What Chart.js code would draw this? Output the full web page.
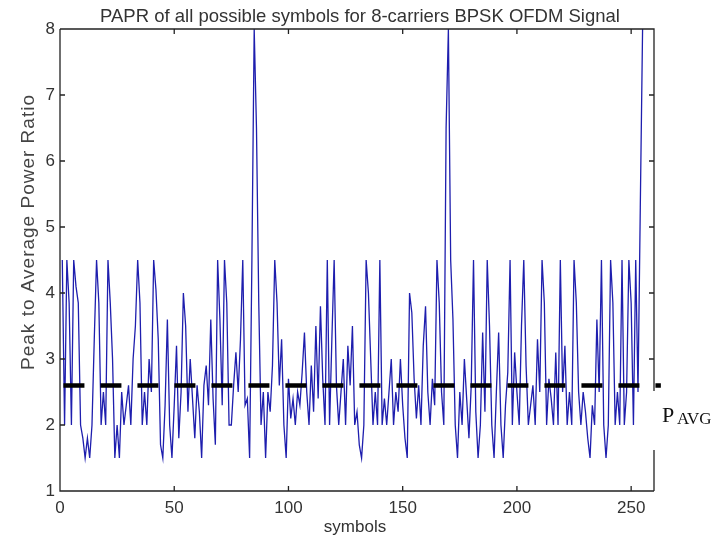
<!DOCTYPE html>
<html>
<head>
<meta charset="utf-8">
<script src="https://cdn.jsdelivr.net/npm/chart.js@4"></script>
<style>
html, body { margin: 0; padding: 0; background: #fff; }
#wrap { width: 720px; height: 541px; }
</style>
</head>
<body>
<div id="wrap"><canvas id="chart1"></canvas></div>
<script>
// PAPR, one value per symbol (1..255)
let papr = [
  4.5, 2, 4.5, 3.85, 2, 4.5, 4.1, 3.85, 2, 1.8, 1.5, 1.8, 1.5, 2, 3.3, 4.5,
  3.85, 2, 2.5, 2, 4.5, 3.85, 3, 1.5, 2, 1.5, 2.5, 2, 2.3, 2.6, 2, 3,
  3.5, 4.5, 3.85, 2, 2.5, 2, 3, 2.5, 4.5, 4.05, 3.3, 1.7, 1.5, 2.3, 3.6, 2,
  1.5, 2.3, 3.2, 1.8, 2.5, 4, 3.5, 2.2, 3, 2.4, 1.8, 2.6, 2.2, 1.5, 2.6, 2.9,
  2.3, 3.6, 2.4, 1.7, 4.5, 3.6, 2.3, 4.5, 3.85, 2, 2, 2.6, 3.1, 2.5, 3.3, 4.5,
  2.3, 2.4, 1.5, 4.5, 8, 6.5, 3.85, 2, 2.5, 1.5, 2.5, 2.2, 2.9, 4.5, 3.85, 2.6,
  3.3, 2, 1.5, 2.7, 2.1, 2.4, 2, 2.5, 2.3, 2.8, 3.4, 2.5, 2, 2.9, 2.2, 3.5,
  2.4, 3.8, 2.7, 2, 4.5, 2, 3.3, 4.5, 2.6, 2, 2.5, 3, 2, 3.2, 2.6, 3.5,
  2, 2.2, 1.7, 1.5, 2, 4.5, 4, 3, 2, 2.5, 2, 4.5, 2, 2.4, 2, 2.5,
  3, 2, 2.5, 2.2, 3, 2.3, 1.8, 1.5, 4, 3.7, 2.7, 2.1, 2.6, 2, 3.2, 3.8,
  2.5, 2, 2.7, 2.3, 4.5, 3.85, 2.5, 2, 6.5, 8, 4.5, 3.6, 2, 1.5, 2.5, 2,
  3, 2.4, 1.8, 2.6, 4.5, 2.2, 1.5, 2, 3.4, 2.2, 4.5, 3.5, 2, 1.5, 2.5, 3.4,
  2, 1.5, 2.3, 2.8, 4.5, 2, 3.1, 2.5, 2, 3.5, 4.5, 2.9, 2, 2.3, 2.6, 2,
  3.3, 2.5, 4.5, 3.85, 2, 2.7, 2.4, 2, 3.1, 2, 4.5, 2.5, 3.2, 2, 2.5, 2,
  4.5, 3.85, 2.5, 2, 2.5, 2.2, 1.8, 1.5, 2.3, 2, 3.6, 2.5, 4.5, 2, 1.5, 2,
  4.5, 3.85, 2, 2.5, 2, 4.5, 2, 2.5, 4.5, 3.85, 2, 4.5, 2.5, 5.3, 8
];
let symbols = papr.map((v, i) => i + 1);
let pavg = 2.6;
let pavgSpan = [1.5, 263];
let xTicks = [0, 50, 100, 150, 200, 250];
let yTicks = [1, 2, 3, 4, 5, 6, 7, 8];

let ctx1 = document.getElementById('chart1');

let data1 = {
  datasets: [{
    label: 'PAVG',
    data: pavgSpan.map(x => ({ x: x, y: pavg })),
    borderColor: '#000',
    borderWidth: 4.5,
    borderDash: [21, 16],
    pointRadius: 0,
    clip: false,
    order: 0
  }, {
    label: 'PAPR',
    data: symbols.map((s, i) => ({ x: s, y: papr[i] })),
    borderColor: '#1e1eae',
    borderWidth: 1.3,
    pointRadius: 0,
    tension: 0,
    order: 1
  }]
};

let framePlugin = {
  id: 'frame',
  afterDraw(chart) {
    let c = chart.ctx;
    let a = chart.chartArea;
    let xs = chart.scales.x, ys = chart.scales.y;
    c.save();
    c.strokeStyle = '#222';
    c.lineWidth = 1.3;
    c.beginPath();
    c.moveTo(a.left, a.top); c.lineTo(a.left, a.bottom); c.lineTo(a.right, a.bottom);
    c.moveTo(a.left, a.top); c.lineTo(a.right, a.top); c.lineTo(a.right, 391);
    c.moveTo(a.right, 450); c.lineTo(a.right, a.bottom);
    // inward ticks
    xTicks.forEach(v => {
      let p = xs.getPixelForValue(v);
      c.moveTo(p, a.bottom); c.lineTo(p, a.bottom - 5);
      c.moveTo(p, a.top); c.lineTo(p, a.top + 5);
    });
    yTicks.forEach(v => {
      let p = ys.getPixelForValue(v);
      c.moveTo(a.left, p); c.lineTo(a.left + 5, p);
      if (p < 391 || p > 450) { c.moveTo(a.right, p); c.lineTo(a.right - 5, p); }
    });
    c.stroke();

    c.fillStyle = '#333';
    c.font = '18.5px "Liberation Sans", Arial, sans-serif';
    c.textAlign = 'center';
    c.textBaseline = 'alphabetic';
    c.fillText('PAPR of all possible symbols for 8-carriers BPSK OFDM Signal', 360, 22);
    c.font = '17px "Liberation Sans", Arial, sans-serif';
    c.fillText('symbols', 355, 532);
    c.save();
    c.translate(34, 232);
    c.rotate(-Math.PI / 2);
    c.fillStyle = '#444';
    c.font = '19px "Liberation Sans", Arial, sans-serif';
    c.letterSpacing = '1px';
    c.fillText('Peak to Average Power Ratio', 0, 0);
    c.restore();

    c.fillStyle = '#111';
    c.textAlign = 'left';
    c.font = '22px "Liberation Serif", "Times New Roman", serif';
    c.fillText('P', 662, 422);
    c.font = '17px "Liberation Serif", "Times New Roman", serif';
    c.fillText('AVG', 677, 424);
    c.restore();
  }
};

let chart1 = new Chart(ctx1, {
  type: 'line',
  data: data1,
  plugins: [framePlugin],
  options: {
    responsive: true,
    maintainAspectRatio: false,
    animation: false,
    layout: { padding: { left: 0, right: 66, top: 29, bottom: 0 } },
    plugins: {
      legend: { display: false },
      tooltip: { enabled: false }
    },
    scales: {
      x: {
        type: 'linear',
        min: 0,
        max: 260,
        afterFit: s => { s.height = 50; },
        afterBuildTicks: s => { s.ticks = xTicks.map(v => ({ value: v })); },
        grid: { display: false, drawTicks: false },
        border: { display: false },
        ticks: {
          padding: 7,
          color: '#333',
          maxRotation: 0,
          font: { family: '"Liberation Sans", Arial, sans-serif', size: 17 }
        }
      },
      y: {
        min: 1,
        max: 8,
        afterFit: s => { s.width = 60; },
        afterBuildTicks: s => { s.ticks = yTicks.map(v => ({ value: v })); },
        grid: { display: false, drawTicks: false },
        border: { display: false },
        ticks: {
          padding: 5,
          color: '#333',
          font: { family: '"Liberation Sans", Arial, sans-serif', size: 17 }
        }
      }
    }
  }
});
</script>
</body>
</html>
